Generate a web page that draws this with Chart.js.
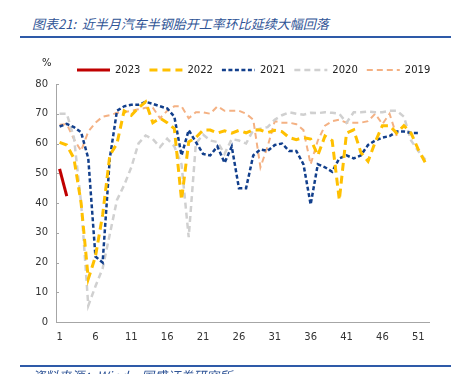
<!DOCTYPE html>
<html>
<head>
<meta charset="utf-8">
<script src="https://cdn.jsdelivr.net/npm/chart.js@4/dist/chart.umd.min.js"></script>
<style>
  html, body { margin: 0; padding: 0; background: #fff; }
  body { width: 465px; height: 374px; overflow: hidden; position: relative; }
  #title { position: absolute; left: 32px; top: 16px; font: italic 13px/15px "Noto Sans CJK SC", sans-serif; color: #2F5496; white-space: nowrap; letter-spacing: 0; }
  .rule { position: absolute; left: 20px; width: 431px; height: 2px; background: #2E5AA8; }
  #pct { position: absolute; left: 42px; top: 57px; font: 10px "DejaVu Sans", sans-serif; color: #222; }
  #src { position: absolute; left: 32px; top: 368px; font: italic 13px/15px "Noto Sans CJK SC", sans-serif; color: #2F5496; white-space: nowrap; }
  #wrap { position: absolute; left: 0; top: 0; width: 465px; height: 374px; }
</style>
</head>
<body>
<div id="title">图表21:&nbsp; 近半月汽车半钢胎开工率环比延续大幅回落</div>
<div class="rule" style="top:36px"></div>
<div id="wrap"><canvas id="c" width="465" height="374"></canvas></div>
<div id="pct">%</div>
<div class="rule" style="top:365px"></div>
<div id="src">资料来源：Wind，国盛证券研究所</div>
<script>
// Week numbers (x categories)
const weeks = Array.from({length: 52}, (_, i) => String(i + 1));
const yTicks = [0, 10, 20, 30, 40, 50, 60, 70, 80];

const s2023 = [51.5, 42.3];
const s2022 = [60.4, 59.5, 55, 40, 14.5, 22, 36, 56, 60, 71,
               69.5, 72, 74, 67, 68.5, 67, 65, 41, 60.5, 62,
               64.5, 64.5, 63.5, 64.3, 63.5, 64.4, 63.6, 64.6, 64.5, 63.7,
               64.4, 64, 62, 61.3, 62, 61.5, 56, 62.5, 61, 41,
               63.5, 64.6, 57, 54, 60.5, 66, 66, 63.5, 66, 63.5,
               58, 53.5];
const s2021 = [65.7, 66.6, 65.5, 63.8, 55, 22, 20, 55, 71, 72.5,
               73, 73, 74, 73.3, 72.5, 71.8, 69, 56, 64.5, 60.5,
               56.5, 56, 59, 53.5, 59, 45, 45, 56, 58, 57.5,
               59.5, 60, 57.5, 57.5, 53, 39.5, 53, 52, 50.5, 55,
               56, 55, 56, 59.5, 61, 62, 62.5, 64, 64, 63.5,
               63.5];
const s2020 = [70, 70, 62, 40, 5.5, 12, 18, 29.5, 41, 46,
               52, 60, 62.7, 61.5, 58.8, 61.6, 59, 53, 28.5, 60,
               63, 61, 60.5, 56.5, 61.5, 61, 60, 64.5, 65, 65.5,
               68, 69.5, 70.5, 70, 69.7, 70.3, 70.2, 70.5, 70.3, 70,
               67, 70.5, 70.5, 70.7, 70.5, 70.5, 71, 71, 69, 61,
               57.5, 54.5];
const s2019 = [66.3, 66.5, 61.5, 57.5, 64, 67, 69, 69.5, 70.3, 70.5,
               71, 71.5, 72, 72, 68.5, 71, 72.5, 72.5, 68.5, 70.5,
               70.5, 70, 72.5, 71, 71, 71, 70, 68, 52, 59,
               67.5, 67, 67, 66.5, 64.5, 53, 61, 66, 67.5, 68,
               67, 67, 67, 67.5, 70, 66.5, 70, 62.5];

const seriesNames = ['2023', '2022', '2021', '2020', '2019'];

// Inward y tick marks + legend drawn from the datasets' own styles
const extras = {
  id: 'extras',
  afterDraw(chart) {
    const ys = chart.scales.y, ctx = chart.ctx;
    ctx.save();
    ctx.strokeStyle = '#A6A6A6';
    ctx.lineWidth = 1;
    yTicks.forEach(v => {
      const py = Math.round(ys.getPixelForValue(v)) + 0.5;
      ctx.beginPath();
      ctx.moveTo(chart.chartArea.left, py);
      ctx.lineTo(chart.chartArea.left + 3, py);
      ctx.stroke();
    });
    // legend
    ctx.font = '10px "DejaVu Sans"';
    ctx.textBaseline = 'middle';
    ctx.textAlign = 'left';
    let x = 77;
    const y = 70;
    chart.data.datasets.forEach(ds => {
      ctx.save();
      ctx.strokeStyle = ds.borderColor;
      ctx.lineWidth = ds.borderWidth;
      ctx.setLineDash(ds.borderDash || []);
      ctx.beginPath();
      ctx.moveTo(x, y);
      ctx.lineTo(x + 33, y);
      ctx.stroke();
      ctx.restore();
      ctx.fillStyle = '#222';
      ctx.fillText(ds.label, x + 38, y);
      x += 38 + ctx.measureText(ds.label).width + 9;
    });
    ctx.restore();
  }
};

const common = { fill: false, pointRadius: 0, pointHoverRadius: 0, tension: 0 };

new Chart(document.getElementById('c'), {
  type: 'line',
  data: {
    labels: weeks,
    datasets: [
      { ...common, label: seriesNames[0], data: s2023, borderColor: '#C00000', backgroundColor: '#C00000', borderWidth: 3 },
      { ...common, label: seriesNames[1], data: s2022, borderColor: '#FFC000', backgroundColor: '#FFC000', borderWidth: 3, borderDash: [8, 5] },
      { ...common, label: seriesNames[2], data: s2021, borderColor: '#123F8C', backgroundColor: '#123F8C', borderWidth: 2.5, borderDash: [4, 2.5] },
      { ...common, label: seriesNames[3], data: s2020, borderColor: '#D0D0D0', backgroundColor: '#D0D0D0', borderWidth: 2.5, borderDash: [6, 4] },
      { ...common, label: seriesNames[4], data: s2019, borderColor: '#F4B183', backgroundColor: '#F4B183', borderWidth: 2, borderDash: [6, 4] }
    ]
  },
  options: {
    responsive: false,
    animation: false,
    events: [],
    layout: { padding: { left: 0, right: 36, top: 84, bottom: 22 } },
    plugins: {
      legend: { display: false },
      tooltip: { enabled: false }
    },
    scales: {
      x: {
        type: 'category',
        offset: true,
        grid: { display: false, drawTicks: false },
        border: { display: true, color: '#A6A6A6', width: 1 },
        ticks: {
          autoSkip: false,
          maxRotation: 0,
          minRotation: 0,
          padding: 9,
          color: '#333',
          font: { family: 'DejaVu Sans', size: 10 },
          callback: (v, i) => (i % 5 === 0 ? weeks[i] : '')
        },
        afterFit: s => { s.height = 30; }
      },
      y: {
        min: 0,
        max: 80,
        grid: { display: false, drawTicks: false },
        border: { display: true, color: '#A6A6A6', width: 1 },
        afterBuildTicks: s => { s.ticks = yTicks.map(v => ({ value: v })); },
        ticks: {
          padding: 8,
          color: '#333',
          font: { family: 'DejaVu Sans', size: 10 }
        },
        afterFit: s => { s.width = 56; }
      }
    }
  },
  plugins: [extras]
});
</script>
</body>
</html>
